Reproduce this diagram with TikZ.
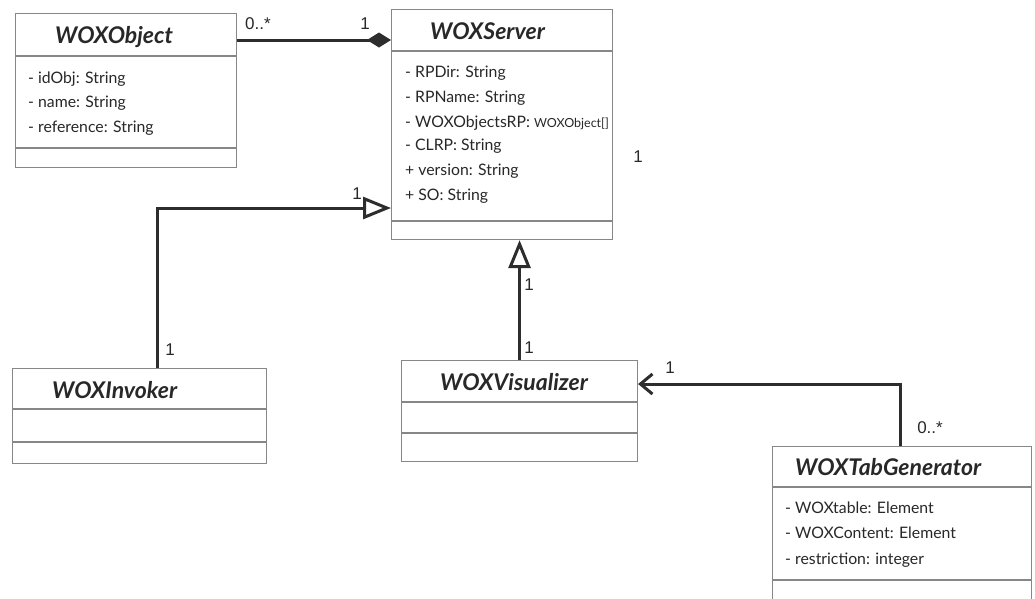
\documentclass[tikz,border=0pt]{standalone}
\usepackage{fontspec}
\setmainfont{Lato}
\newfontfamily\multfont{Liberation Sans}
\usetikzlibrary{arrows.meta}
\definecolor{boxline}{RGB}{135,135,135}
\definecolor{ink}{RGB}{40,40,40}
\definecolor{wire}{RGB}{45,45,45}

\begin{document}
\begin{tikzpicture}[x=1pt,y=-1pt,
  classbox/.style={draw=boxline, line width=1.1pt, fill=white, inner sep=0pt, anchor=north west},
  sepline/.style={draw=boxline, line width=1.1pt},
  title/.style={anchor=base west, font=\fontsize{23}{26}\selectfont\bfseries\itshape, text=ink, inner sep=0pt},
  attr/.style={anchor=base west, font=\fontsize{15.8}{18}\selectfont, text=ink, inner sep=0pt},
  mult/.style={font=\multfont\fontsize{17}{19}\selectfont, text=ink, inner sep=0pt},
  wire/.style={draw=wire, line width=3pt},
  gentip/.style={-{Triangle[length=28pt,width=22pt,fill=white]}},
]
\useasboundingbox (0,0) rectangle (1035,598);
\clip (0,0) rectangle (1035,598);

% ---------- class boxes ----------
\node[classbox, minimum width=221pt, minimum height=154pt] (obj) at (15,13) {};
\draw[sepline] (obj.west |- 0,56) -- (obj.east |- 0,56);
\draw[sepline] (obj.west |- 0,148) -- (obj.east |- 0,148);
\node[title] (objT) at (55,43) {WOXObject};
\node[attr] (objA1) at (28,83) {- idObj: String};
\node[attr] (objA2) at (28,107) {- name: String};
\node[attr] (objA3) at (28,132) {- reference: String};

\node[classbox, minimum width=221pt, minimum height=230pt] (server) at (391,9) {};
\draw[sepline] (server.west |- 0,51) -- (server.east |- 0,51);
\draw[sepline] (server.west |- 0,221) -- (server.east |- 0,221);
\node[title] (serverT) at (430,39) {WOXServer};
\node[attr] (srvA1) at (405,77) {- RPDir: String};
\node[attr] (srvA2) at (405,102) {- RPName: String};
\node[attr] (srvA3) at (405,127) {- WOXObjectsRP: {\fontsize{12.5}{14}\selectfont WOXObject[]}};
\node[attr] (srvA4) at (405,150) {- CLRP: String};
\node[attr] (srvA5) at (405,175) {+ version: String};
\node[attr] (srvA6) at (405,200) {+ SO: String};

\node[classbox, minimum width=254pt, minimum height=95pt] (inv) at (12,368) {};
\draw[sepline] (inv.west |- 0,409) -- (inv.east |- 0,409);
\draw[sepline] (inv.west |- 0,442) -- (inv.east |- 0,442);
\node[title] (invT) at (52,398) {WOXInvoker};

\node[classbox, minimum width=236pt, minimum height=101pt] (vis) at (401,360) {};
\draw[sepline] (vis.west |- 0,402) -- (vis.east |- 0,402);
\draw[sepline] (vis.west |- 0,433) -- (vis.east |- 0,433);
\node[title] (visT) at (440,390) {WOXVisualizer};

\node[classbox, minimum width=259pt, minimum height=170pt] (gen) at (772,446) {};
\draw[sepline] (gen.west |- 0,487) -- (gen.east |- 0,487);
\draw[sepline] (gen.west |- 0,580) -- (gen.east |- 0,580);
\node[title] (genT) at (795,475) {WOXTabGenerator};
\node[attr] (genA1) at (785,513) {- WOXtable: Element};
\node[attr] (genA2) at (785,538) {- WOXContent: Element};
\node[attr] (genA3) at (785,564) {- restriction: integer};

% ---------- relationships ----------
% composition: WOXObject -- WOXServer
\draw[wire, -{Diamond[length=24pt,width=15pt]}]
  (obj.east |- 0,40) -- (server.west |- 0,40);
% generalisation: WOXInvoker -> WOXServer
\draw[wire, line join=miter, gentip]
  (inv.north -| 157,0) |- (server.west |- 0,208);
% generalisation: WOXVisualizer -> WOXServer
\draw[wire, gentip]
  (vis.north) -- (server.south -| vis.north);
% association: WOXTabGenerator -> WOXVisualizer
\draw[wire, line join=miter, -{Straight Barb[length=12pt,width=20pt]}]
  (gen.north -| 900,0) |- (vis.east |- 0,384);

% ---------- multiplicities ----------
\node[mult] (m1) at (258,24) {0..*};
\node[mult] (m2) at (365,24) {1};
\node[mult] (m3) at (638,157) {1};
\node[mult] (m4) at (357,194) {1};
\node[mult] (m5) at (170,350) {1};
\node[mult] (m6) at (529,285) {1};
\node[mult] (m7) at (529,348) {1};
\node[mult] (m8) at (670,368) {1};
\node[mult] (m9) at (930,428) {0..*};
\end{tikzpicture}
\end{document}
